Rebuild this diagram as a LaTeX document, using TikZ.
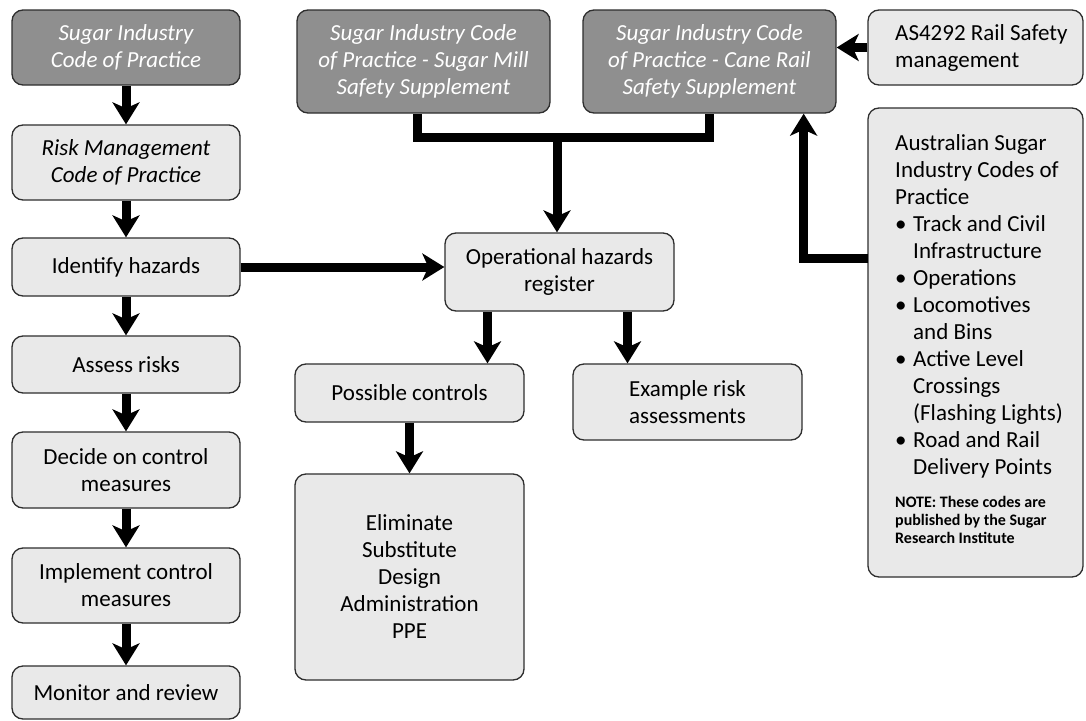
\documentclass[tikz,border=0pt]{standalone}
\usepackage{fontspec}
\setmainfont{Carlito}
\usetikzlibrary{arrows.meta}
\definecolor{darkfill}{HTML}{8F8F8F}
\definecolor{lightfill}{HTML}{E9E9E9}
\definecolor{edgecol}{HTML}{2E2E2E}
\tikzset{
  box/.style={draw=edgecol, line width=1.3pt, rounded corners=11pt, fill=lightfill,
    align=center, inner sep=0pt, font=\fontsize{23}{27}\selectfont},
  dbox/.style={box, fill=darkfill, text=white, font=\fontsize{23}{27}\selectfont\itshape},
  ibox/.style={box, font=\fontsize{23}{27}\selectfont\itshape},
  plain/.style={inner sep=0pt, align=left, font=\fontsize{23}{27}\selectfont},
  conn/.style={line width=9pt, draw=black, line join=miter},
  arr/.style={conn, -{Stealth[length=22pt, width=27pt, inset=6pt]}},
}
\newcommand{\bul}{\makebox[18pt][l]{\textbullet}}
\begin{document}
\begin{tikzpicture}[x=1pt,y=-1pt]
\useasboundingbox (0,0) rectangle (1086,720);
\fill[white] (0,0) rectangle (1086,720);

% left column
\node[dbox, minimum width=228pt, minimum height=75pt] (b1) at (126,47.5) {Sugar Industry\\Code of Practice};
\node[ibox, minimum width=228pt, minimum height=75pt] (b2) at (126,162.5) {Risk Management\\Code of Practice};
\node[box, minimum width=228pt, minimum height=58pt] (b3) at (126,267) {Identify hazards};
\node[box, minimum width=228pt, minimum height=57pt] (b4) at (126,364.5) {Assess risks};
\node[box, minimum width=228pt, minimum height=76pt] (b5) at (126,470) {Decide on control\\measures};
\node[box, minimum width=228pt, minimum height=75pt] (b6) at (126,585.5) {Implement control\\measures};
\node[box, minimum width=228pt, minimum height=53pt] (b7) at (126,692.5) {Monitor and review};

\draw[arr] (b1.south) -- (b2.north);
\draw[arr] (b2.south) -- (b3.north);
\draw[arr] (b3.south) -- (b4.north);
\draw[arr] (b4.south) -- (b5.north);
\draw[arr] (b5.south) -- (b6.north);
\draw[arr] (b6.south) -- (b7.north);

% top supplements
\node[dbox, minimum width=253pt, minimum height=103pt] (mill) at (423.5,61.5) {Sugar Industry Code\\of Practice - Sugar Mill\\Safety Supplement};
\node[dbox, minimum width=253pt, minimum height=103pt] (cane) at (709.5,61.5) {Sugar Industry Code\\of Practice - Cane Rail\\Safety Supplement};

% right column
\node[box, minimum width=215pt, minimum height=75pt] (as) at (975.5,47.5) {};
\node[plain, anchor=west] (astext) at (895,47.5) {AS4292 Rail Safety\\management};
\node[box, minimum width=215pt, minimum height=469pt] (aus) at (975.5,342.5) {};
\node[plain, anchor=north west] (austext) at (895,134) {Australian Sugar\\Industry Codes of\\Practice\\
\bul Track and Civil\\\hspace*{18pt}Infrastructure\\
\bul Operations\\
\bul Locomotives\\\hspace*{18pt}and Bins\\
\bul Active Level\\\hspace*{18pt}Crossings\\\hspace*{18pt}(Flashing Lights)\\
\bul Road and Rail\\\hspace*{18pt}Delivery Points};
\node[inner sep=0pt, align=left, anchor=north west, font=\fontsize{16}{18}\selectfont\bfseries] (note) at (895,496) {NOTE: These codes are\\published by the Sugar\\Research Institute};

% middle
\node[box, minimum width=229pt, minimum height=78pt] (opreg) at (559.5,272) {Operational hazards\\register};
\node[box, minimum width=229pt, minimum height=58pt] (poss) at (409.5,393) {Possible controls};
\node[box, minimum width=229pt, minimum height=76pt] (ex) at (687.5,402) {Example risk\\assessments};
\node[box, minimum width=229pt, minimum height=206pt] (ppe) at (409.5,577) {Eliminate\\Substitute\\Design\\Administration\\PPE};

% connectors
\coordinate (jn) at (557,137);
\draw[conn] ([xshift=-6pt]mill.south) |- (jn) -| (cane.south);
\draw[arr] (jn) -- (jn |- opreg.north);
\draw[arr] (as.west) -- (as.west -| cane.east);
\coordinate (ausj) at (868,258);
\draw[arr] (ausj) -| ([xshift=-33pt]cane.south east);
\draw[arr] (b3.east) -- (b3.east -| opreg.west);
\draw[arr] ([xshift=-72pt]opreg.south) -- ([xshift=-72pt]opreg.south |- poss.north);
\draw[arr] ([xshift=68pt]opreg.south) -- ([xshift=68pt]opreg.south |- ex.north);
\draw[arr] (poss.south) -- (ppe.north);
\end{tikzpicture}
\end{document}
